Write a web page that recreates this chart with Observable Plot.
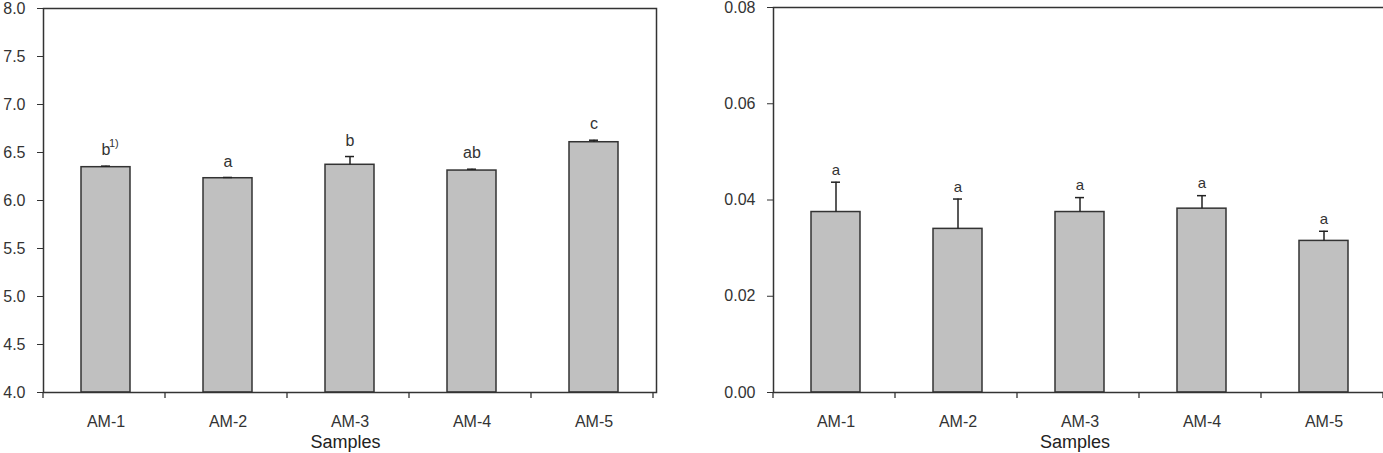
<!DOCTYPE html>
<html>
<head>
<meta charset="utf-8">
<script src="https://cdn.jsdelivr.net/npm/d3@7"></script>
<script src="https://cdn.jsdelivr.net/npm/@observablehq/plot@0.6"></script>
<style>
  html, body { margin: 0; padding: 0; background: #fff; overflow: hidden; }
  #wrap { position: relative; width: 1383px; height: 453px; overflow: hidden; }
  .panel { position: absolute; top: 0; }
  .xtitle { position: absolute; font-family: "Liberation Sans", Arial, sans-serif; font-size: 18px; line-height: 1; color: #222; transform: translateX(-50%); white-space: nowrap; }
</style>
</head>
<body>
<div id="wrap"></div>
<script>
const samples = ["AM-1", "AM-2", "AM-3", "AM-4", "AM-5"];
// Left panel
const leftValues = [6.347, 6.232, 6.372, 6.312, 6.607];
const leftErrTop = [6.358, 6.240, 6.458, 6.326, 6.628];
const leftLetters = ["b", "a", "b", "ab", "c"];
const leftNotes = ["1)", "", "", "", ""];
const leftTicks = [4.0, 4.5, 5.0, 5.5, 6.0, 6.5, 7.0, 7.5, 8.0];
// Right panel
const rightValues = [0.0375, 0.0340, 0.0375, 0.0382, 0.0315];
const rightErrTop = [0.0437, 0.0402, 0.0405, 0.0409, 0.0335];
const rightLetters = ["a", "a", "a", "a", "a"];
const rightTicks = [0.00, 0.02, 0.04, 0.06, 0.08];
const xTitle = "Samples";

const FONT = '"Liberation Sans", Arial, sans-serif';
const wrap = document.getElementById("wrap");

function panel({left, width, marginLeft, marginRight, marginTop, values, errTop, letters, notes, ticks, domain, fmt, letterDy, letterSize, letterDx}) {
  const data = samples.map((s, i) => ({s, v: values[i], e: errTop[i], l: letters[i], n: notes ? notes[i] : ""}));
  const marks = [
    Plot.barY(data, {x: "s", y1: domain[0], y2: "v", fill: "#c0c0c0", stroke: "#333", strokeWidth: 1.5}),
    Plot.ruleX(data, {x: "s", y1: "v", y2: "e", stroke: "#222", strokeWidth: 1.5}),
    Plot.tickY(data, {x: "s", y: "e", stroke: "#222", strokeWidth: 1.5, insetLeft: 20, insetRight: 20}),
    Plot.text(data, {x: "s", y: "e", text: "l", dy: letterDy, dx: letterDx || 0, fontSize: letterSize, fill: "#333", fontFamily: FONT}),
    Plot.axisY({ticks, tickFormat: d3.format(fmt), tickSize: 6, tickPadding: 12, fontSize: 16, color: "#333", label: null, fontFamily: FONT}),
    Plot.axisX({tickSize: 0, tickPadding: 23, fontSize: 16, color: "#333", label: null, fontFamily: FONT}),
    Plot.frame({stroke: "#333", strokeWidth: 1.5})
  ];
  if (notes) marks.push(Plot.text(data, {x: "s", y: "e", text: "n", dx: 3, dy: letterDy - 7, fontSize: 11, textAnchor: "start", fill: "#333", fontFamily: FONT}));
  const chart = Plot.plot({
    width, height: 453,
    marginLeft, marginRight, marginTop, marginBottom: 61,
    style: {fontFamily: FONT, background: "transparent", overflow: "visible"},
    x: {domain: samples, paddingInner: 0.6, paddingOuter: 0.3, label: null},
    y: {domain, label: null},
    marks
  });
  chart.classList.add("panel");
  chart.style.left = left + "px";
  wrap.appendChild(chart);
  // category boundary ticks on the x axis
  const xs = chart.scale("x");
  const step = xs.step;
  const x0 = marginLeft;
  const yBase = 453 - 61;
  const svg = d3.select(chart);
  const g = svg.append("g").attr("stroke", "#333").attr("stroke-width", 1.3);
  for (let i = 0; i <= samples.length; i++) {
    const x = x0 + i * step;
    g.append("line").attr("x1", x).attr("x2", x).attr("y1", yBase).attr("y2", yBase + 6);
  }
  const t = document.createElement("div");
  t.className = "xtitle";
  t.textContent = xTitle;
  t.style.left = (left + marginLeft + (width - marginLeft - marginRight) / 2 - 4) + "px";
  t.style.top = "433px";
  wrap.appendChild(t);
}

panel({left: 0, width: 680, marginLeft: 43, marginRight: 24, marginTop: 8,
  values: leftValues, errTop: leftErrTop, letters: leftLetters, notes: leftNotes,
  ticks: leftTicks, domain: [4, 8], fmt: ".1f", letterDy: -16, letterSize: 16});
panel({left: 690, width: 705, marginLeft: 83, marginRight: 10, marginTop: 7,
  values: rightValues, errTop: rightErrTop, letters: rightLetters, notes: null,
  ticks: rightTicks, domain: [0, 0.08], fmt: ".2f", letterDy: -12, letterSize: 15});
</script>
</body>
</html>
